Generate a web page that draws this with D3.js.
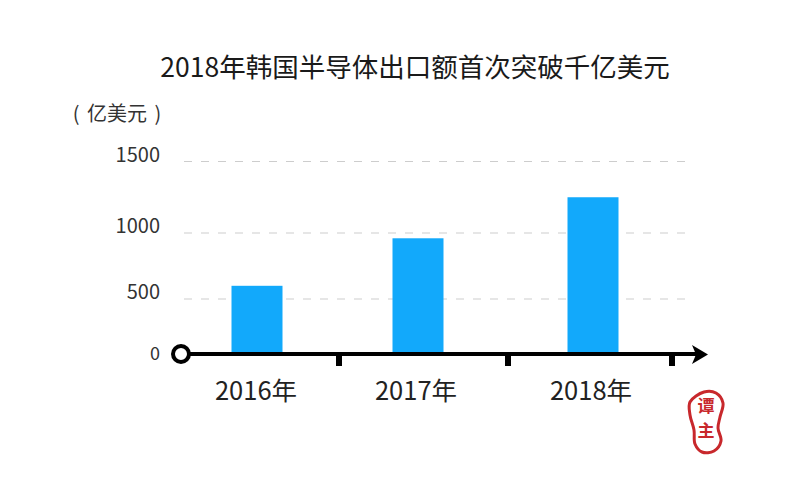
<!DOCTYPE html>
<html><head><meta charset="utf-8">
<script src="https://cdn.jsdelivr.net/npm/d3@7/dist/d3.min.js"></script>
<style>html,body{margin:0;padding:0;background:#fff}svg{display:block}text{font-family:"Noto Sans CJK SC","Noto Sans",sans-serif}</style>
</head><body><svg id="c" width="800" height="478"></svg>
<script>
const categories = ["2016年","2017年","2018年"];
const values = [600, 960, 1250];
const yTicks = [0, 500, 1000, 1500];
const titleText = "2018年韩国半导体出口额首次突破千亿美元";
const unitText = "(\u00A0亿美元\u00A0)";
const sealChars = ["谭","主"];

const svg = d3.select("#c");
// The reference's value axis is not evenly spaced, so the scale is piecewise.
const y = d3.scaleLinear().domain(yTicks).range([354, 299, 233, 161.5]);
const x = d3.scaleOrdinal().domain(categories).range([257, 418, 593]);
const xLabel = d3.scaleOrdinal().domain(categories).range([256, 416, 591]);
const axisTicks = d3.scaleOrdinal().domain(categories).range([339, 508, 672]);
const barW = 51;

svg.append("text").attr("x",415).attr("y",77).attr("text-anchor","middle")
  .attr("font-size",26.5).attr("fill","#1a1a1a").text(titleText);
svg.append("text").attr("x",117).attr("y",121).attr("text-anchor","middle")
  .attr("font-size",20).attr("word-spacing",3).attr("fill","#333").text(unitText);

svg.append("g").selectAll("line").data(yTicks.filter(d=>d>0)).join("line")
  .attr("x1",184).attr("x2",690).attr("y1",y).attr("y2",y)
  .attr("stroke","#cdcdcd").attr("stroke-width",1.2).attr("stroke-dasharray","8 9");

svg.append("g").selectAll("text").data(yTicks).join("text")
  .attr("x",160).attr("y",d=>y(d)+(d===0?6:0)).attr("text-anchor","end")
  .attr("font-size",d=>d===0?18:20).attr("fill","#333").text(d=>d);

svg.append("g").selectAll("rect").data(categories).join("rect")
  .attr("x",d=>x(d)-barW/2).attr("width",barW)
  .attr("y",(d,i)=>y(values[i])).attr("height",(d,i)=>y(0)-y(values[i]))
  .attr("fill","#12a9fb");

svg.append("line").attr("x1",186).attr("x2",703).attr("y1",y(0)).attr("y2",y(0))
  .attr("stroke","#000").attr("stroke-width",4);
svg.append("g").selectAll("line").data(categories).join("line")
  .attr("x1",axisTicks).attr("x2",axisTicks).attr("y1",y(0)).attr("y2",y(0)+12)
  .attr("stroke","#000").attr("stroke-width",6);
const lineGen = d3.line();
svg.append("path").attr("d",lineGen([[692,345],[708,354.5],[692,364],[696,354.5]])+"Z").attr("fill","#000");
svg.append("circle").attr("cx",181).attr("cy",y(0)).attr("r",8)
  .attr("fill","#fff").attr("stroke","#000").attr("stroke-width",4);

svg.append("g").selectAll("text").data(categories).join("text")
  .attr("x",xLabel).attr("y",400).attr("text-anchor","middle")
  .attr("font-size",25.5).attr("fill","#222").text(d=>d);

// Red seal
const seal = svg.append("g");
seal.append("path")
  .attr("d",d3.line().curve(d3.curveCatmullRomClosed)([[704,392],[716,393],[723,403],[720,417],[718,428],[721,441],[714,451],[702,452],[695,444],[694,430],[690,415],[690,402]]))
  .attr("fill","#fff").attr("stroke","#c8282c").attr("stroke-width",3);
seal.selectAll("text").data(sealChars).join("text")
  .attr("x",706).attr("y",(d,i)=>412+i*25).attr("text-anchor","middle")
  .attr("font-size",17).attr("font-weight",700).attr("fill","#c8282c").text(d=>d);
</script></body></html>
